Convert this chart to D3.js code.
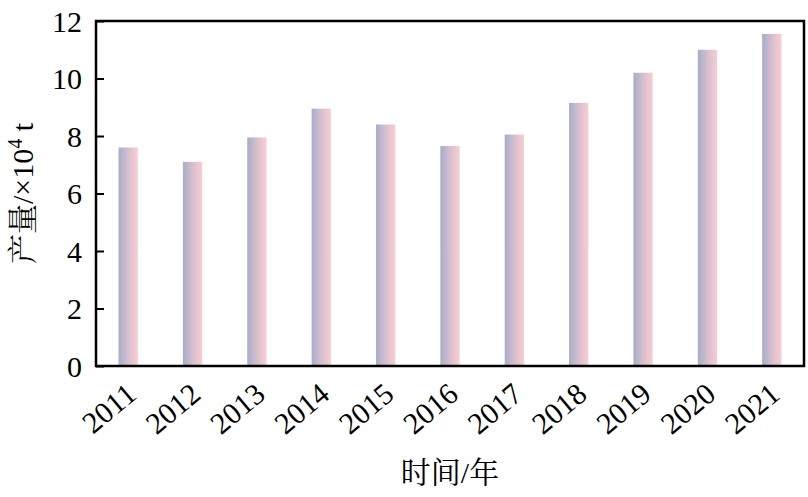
<!DOCTYPE html>
<html><head><meta charset="utf-8">
<script src="https://cdn.jsdelivr.net/npm/d3@7"></script>
<style>body{margin:0;background:#fff}</style>
</head><body>
<script>
const years = ["2011","2012","2013","2014","2015","2016","2017","2018","2019","2020","2021"];
const output = [7.6, 7.1, 7.95, 8.95, 8.4, 7.65, 8.05, 9.15, 10.2, 11.0, 11.55];
const yTicks = [0,2,4,6,8,10,12];

const W=808,H=497;
const m={l:96,t:21,r:4,b:131};
const svg=d3.select("body").append("svg").attr("width",W).attr("height",H);
const defs=svg.append("defs");
const g=defs.append("linearGradient").attr("id","bg").attr("x1","0").attr("x2","1").attr("y1","0").attr("y2","0");
g.append("stop").attr("offset","0").attr("stop-color","#a7adca");
g.append("stop").attr("offset","0.5").attr("stop-color","#d6bfce");
g.append("stop").attr("offset","1").attr("stop-color","#fbcdd3");

const x=d3.scaleBand().domain(years).range([m.l,W-m.r]).paddingInner(0.7).paddingOuter(0.35);
const y=d3.scaleLinear().domain([0,12]).range([H-m.b,m.t]);
const font="'Liberation Serif','Times New Roman',serif";
const cjk="'Liberation Serif','Noto Serif CJK SC','Noto Sans CJK SC',serif";

svg.selectAll("rect.bar").data(output).join("rect").attr("class","bar")
 .attr("x",(d,i)=>x(years[i])).attr("width",x.bandwidth())
 .attr("y",d=>y(d)).attr("height",d=>y(0)-y(d)).attr("fill","url(#bg)");

const ya=svg.append("g").attr("transform",`translate(${m.l},0)`)
 .call(d3.axisLeft(y).tickValues(yTicks).tickSize(-8).tickPadding(14));
ya.attr("font-family",font).attr("font-size",30);
ya.select(".domain").remove();
ya.selectAll("line").attr("stroke","#000").attr("stroke-width",2);
ya.selectAll("text").attr("fill","#000").attr("dy","0.34em");

const xa=svg.append("g").attr("transform",`translate(0,${y(0)})`)
 .call(d3.axisBottom(x).tickSize(0));
xa.attr("font-family",font).attr("font-size",30);
xa.select(".domain").remove();
xa.selectAll("text").attr("fill","#000")
 .attr("text-anchor","end").attr("dy",0).attr("y",0)
 .attr("transform","translate(10,31) rotate(-40)");

svg.append("rect").attr("x",m.l).attr("y",m.t).attr("width",W-m.r-m.l).attr("height",y(0)-m.t)
 .attr("fill","none").attr("stroke","#000").attr("stroke-width",2.5);

svg.append("text").attr("x",(m.l+W-m.r)/2).attr("y",483).attr("text-anchor","middle")
 .attr("font-family",cjk).attr("font-size",30).attr("fill","#000").text("时间/年");

const yl=svg.append("text").attr("transform",`translate(33,${(m.t+y(0))/2}) rotate(-90)`)
 .attr("text-anchor","middle").attr("font-family",cjk).attr("font-size",30).attr("fill","#000");
yl.append("tspan").text("产量/×10");
yl.append("tspan").attr("dy",-11).attr("font-size",20).text("4");
yl.append("tspan").attr("dy",11).text(" t");
</script>
</body></html>
